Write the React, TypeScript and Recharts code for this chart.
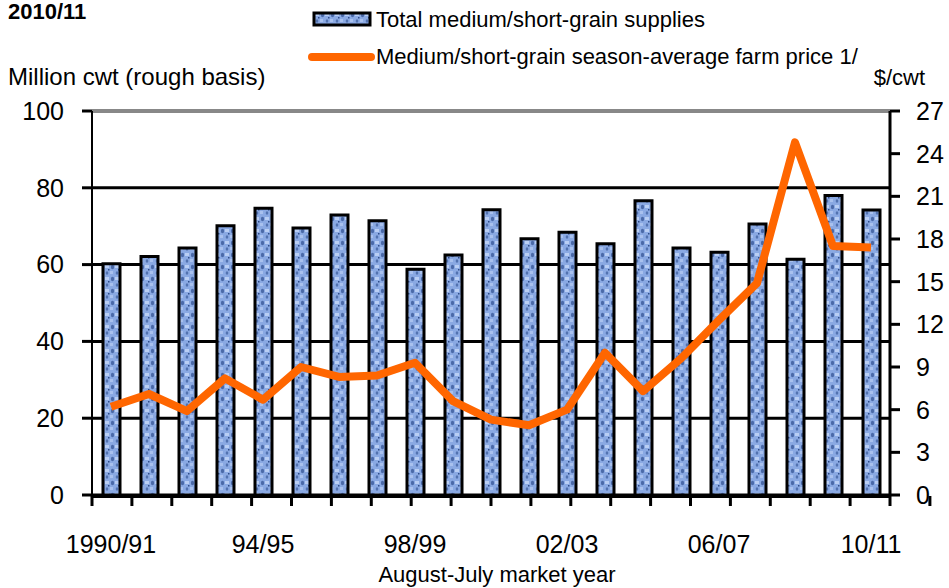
import { ComposedChart, Bar, Line, XAxis, YAxis, CartesianGrid, ReferenceLine } from 'recharts';

const years = [
  '1990/91', '91/92', '92/93', '93/94', '94/95', '95/96', '96/97', '97/98', '98/99', '99/00',
  '00/01', '01/02', '02/03', '03/04', '04/05', '05/06', '06/07', '07/08', '08/09', '09/10', '10/11',
];

// million cwt, rough basis
const supplies = [
  60.2, 62.1, 64.3, 70.1, 74.7, 69.5, 72.9, 71.4, 58.8, 62.5,
  74.3, 66.7, 68.4, 65.4, 76.6, 64.3, 63.2, 70.6, 61.4, 78.0, 74.2,
];

// $/cwt
const farmPrice = [
  6.2, 7.1, 5.9, 8.2, 6.7, 9.0, 8.3, 8.4, 9.3, 6.6,
  5.3, 4.9, 6.0, 10.0, 7.3, 9.6, 12.3, 14.9, 24.8, 17.5, 17.4,
];

const leftTicks = [0, 20, 40, 60, 80, 100];
const rightTicks = [0, 3, 6, 9, 12, 15, 18, 21, 24, 27];
const boundaryTicks = Array.from({ length: years.length + 1 }, (_, i) => i);

const data = years.map((year, i) => ({ year, supplies: supplies[i], price: farmPrice[i] }));

const font = 'Arial, "Liberation Sans", sans-serif';

export default function App() {
  return (
    <div style={{ position: 'absolute', left: 0, top: 0, width: 949, height: 588, background: '#fff', fontFamily: font }}>
      <ComposedChart width={949} height={588} data={data} margin={{ top: 111, right: 0, bottom: 0, left: 0 }}>
        <defs>
          <pattern id="tex" width="10" height="12" patternUnits="userSpaceOnUse">
            <rect width="10" height="12" fill="#8aa9e3" />
            <ellipse cx="2.5" cy="3" rx="1.6" ry="2.2" fill="#4a69a8" />
            <ellipse cx="7" cy="9" rx="1.3" ry="1.8" fill="#5272b0" />
            <rect x="5" y="1" width="4" height="3" fill="#b9cef4" />
            <rect x="0" y="7" width="3" height="3" fill="#a9c1ee" />
            <rect x="8" y="5" width="1.5" height="1.5" fill="#2f4c88" />
          </pattern>
        </defs>
        <CartesianGrid xAxisId="cat" yAxisId="left" vertical={false} stroke="#000" strokeWidth={3} />
        <ReferenceLine xAxisId="cat" yAxisId="left" y={100} stroke="#888" strokeWidth={4} />
        {/* boundary tick marks between the years */}
        <XAxis
          xAxisId="edges"
          type="number"
          domain={[0, years.length]}
          ticks={boundaryTicks}
          height={92}
          tickSize={10}
          tick={() => <g />}
          axisLine={{ stroke: '#000', strokeWidth: 4 }}
          tickLine={{ stroke: '#000', strokeWidth: 3 }}
        />
        <XAxis
          xAxisId="cat"
          dataKey="year"
          height={1}
          interval={3}
          tickSize={0}
          tickMargin={40}
          axisLine={false}
          tickLine={false}
          tick={{ fill: '#000', fontSize: 25, fontFamily: font }}
        />
        <YAxis
          yAxisId="left"
          domain={[0, 100]}
          ticks={leftTicks}
          width={92}
          tickSize={10}
          tickMargin={18}
          axisLine={{ stroke: '#000', strokeWidth: 2 }}
          tickLine={{ stroke: '#000', strokeWidth: 3 }}
          tick={{ fill: '#000', fontSize: 25, fontFamily: font }}
        />
        <YAxis
          yAxisId="right"
          orientation="right"
          domain={[0, 27]}
          ticks={rightTicks}
          width={59}
          tickSize={10}
          tickMargin={16}
          axisLine={{ stroke: '#000', strokeWidth: 3 }}
          tickLine={{ stroke: '#000', strokeWidth: 3 }}
          tick={{ fill: '#000', fontSize: 25, fontFamily: font, textAnchor: 'start' }}
        />
        <Bar
          xAxisId="cat"
          yAxisId="left"
          dataKey="supplies"
          barSize={17}
          fill="url(#tex)"
          stroke="#000"
          strokeWidth={3}
          isAnimationActive={false}
        />
        <Line
          xAxisId="cat"
          yAxisId="right"
          dataKey="price"
          type="linear"
          stroke="#ff6600"
          strokeWidth={8}
          strokeLinejoin="round"
          dot={false}
          activeDot={false}
          isAnimationActive={false}
        />
      </ComposedChart>
      <svg
        width={949}
        height={588}
        style={{ position: 'absolute', left: 0, top: 0, pointerEvents: 'none' }}
        fontFamily={font}
      >
        <text x={8} y={19} fontSize={22} fontWeight="bold" fill="#000">2010/11</text>
        <rect x={314} y={13} width={56} height={12} fill="url(#tex)" stroke="#000" strokeWidth={3} />
        <text x={376} y={27} fontSize={22} fill="#000">Total medium/short-grain supplies</text>
        <line x1={312} y1={57} x2={371} y2={57} stroke="#ff6600" strokeWidth={8} strokeLinecap="round" />
        <text x={376} y={64} fontSize={22} fill="#000">Medium/short-grain season-average farm price 1/</text>
        <text x={8} y={85} fontSize={24} fill="#000">Million cwt (rough basis)</text>
        <text x={925} y={85} fontSize={22} fill="#000" textAnchor="end">$/cwt</text>
        <text x={497} y={582} fontSize={22} fill="#000" textAnchor="middle">August-July market year</text>
      </svg>
    </div>
  );
}
